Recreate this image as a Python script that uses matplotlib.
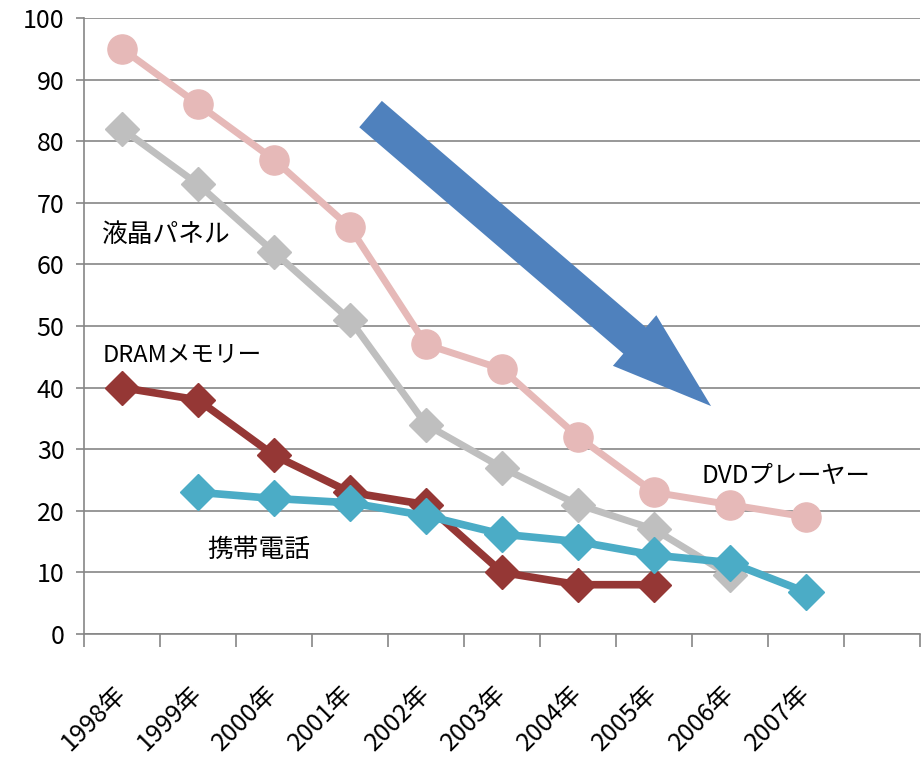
"""Price decline of digital products, 1998-2007."""

import matplotlib
matplotlib.use("Agg")
import matplotlib.pyplot as plt
import numpy as np

plt.rcParams["font.family"] = ["Noto Sans CJK JP", "DejaVu Sans"]

years = ["1998年", "1999年", "2000年", "2001年", "2002年",
         "2003年", "2004年", "2005年", "2006年", "2007年"]

dvd = [95, 86, 77, 66, 47, 43, 32, 23, 21, 19]
lcd = [82, 73, 62, 51, 34, 27, 21, 17, 9.5, np.nan]
dram = [40, 38, 29, 23, 21, 10, 8, 8, np.nan, np.nan]
mobile = [np.nan, 23, 22, 21.3, 19.2, 16.2, 15, 12.8, 11.6, 6.8]

# series name, (x, y) position, font size
labels = [
    ("液晶パネル", (-0.26, 64.8), 18.5),
    ("DRAMメモリー", (-0.26, 45.3), 17),
    ("携帯電話", (1.12, 13.6), 18.5),
    ("DVDプレーヤー", (7.63, 25.6), 17.5),
]

fig = plt.figure(figsize=(9.21, 7.58), dpi=100)
ax = fig.add_axes([0.0912, 0.1636, 0.9078, 0.8127])

x = np.arange(len(years))
grid_c = "#868686"

ax.plot(x, dvd, color="#E6B9B8", lw=5, marker="o", ms=21, zorder=3)
ax.plot(x, lcd, color="#BFBFBF", lw=5, marker="D", ms=17, zorder=4)
ax.plot(x, dram, color="#953735", lw=5.5, marker="D", ms=17, zorder=5)
ax.plot(x, mobile, color="#4BACC6", lw=5.5, marker="D", ms=18, zorder=6)

for text, (tx, ty), size in labels:
    ax.text(tx, ty, text, fontsize=size, ha="left", va="center", zorder=7)

# big trend arrow
ax.annotate("", xy=(7.75, 37.0), xytext=(3.27, 84.4), annotation_clip=False,
            arrowprops=dict(arrowstyle="simple,head_length=2.9,head_width=1.92,tail_width=1.0",
                            mutation_scale=25, color="#4F81BD", lw=0,
                            shrinkA=0, shrinkB=0),
            zorder=8)

ax.set_xlim(-0.5, 10.5)
ax.set_ylim(0, 100)
ax.set_yticks(np.arange(0, 101, 10))
ax.yaxis.grid(True, color=grid_c, lw=1.2)
ax.set_axisbelow(True)

ax.set_xticks(np.arange(-0.5, 10.6, 1))
ax.set_xticklabels([])
ax.set_xticks(x, minor=True)
ax.set_xticklabels(years, minor=True, rotation=45, ha="right", va="center",
                   rotation_mode="anchor", fontsize=18)
ax.tick_params(axis="x", which="minor", length=0, pad=40)
ax.tick_params(axis="x", which="major", length=9, width=1.2, color=grid_c)
ax.tick_params(axis="y", length=6, width=1.2, color=grid_c, labelsize=18, pad=8)

for side in ("top", "right"):
    ax.spines[side].set_visible(False)
for side in ("left", "bottom"):
    ax.spines[side].set_color(grid_c)
    ax.spines[side].set_linewidth(1.2)

fig.savefig("out.png", dpi=100)
plt.close(fig)
